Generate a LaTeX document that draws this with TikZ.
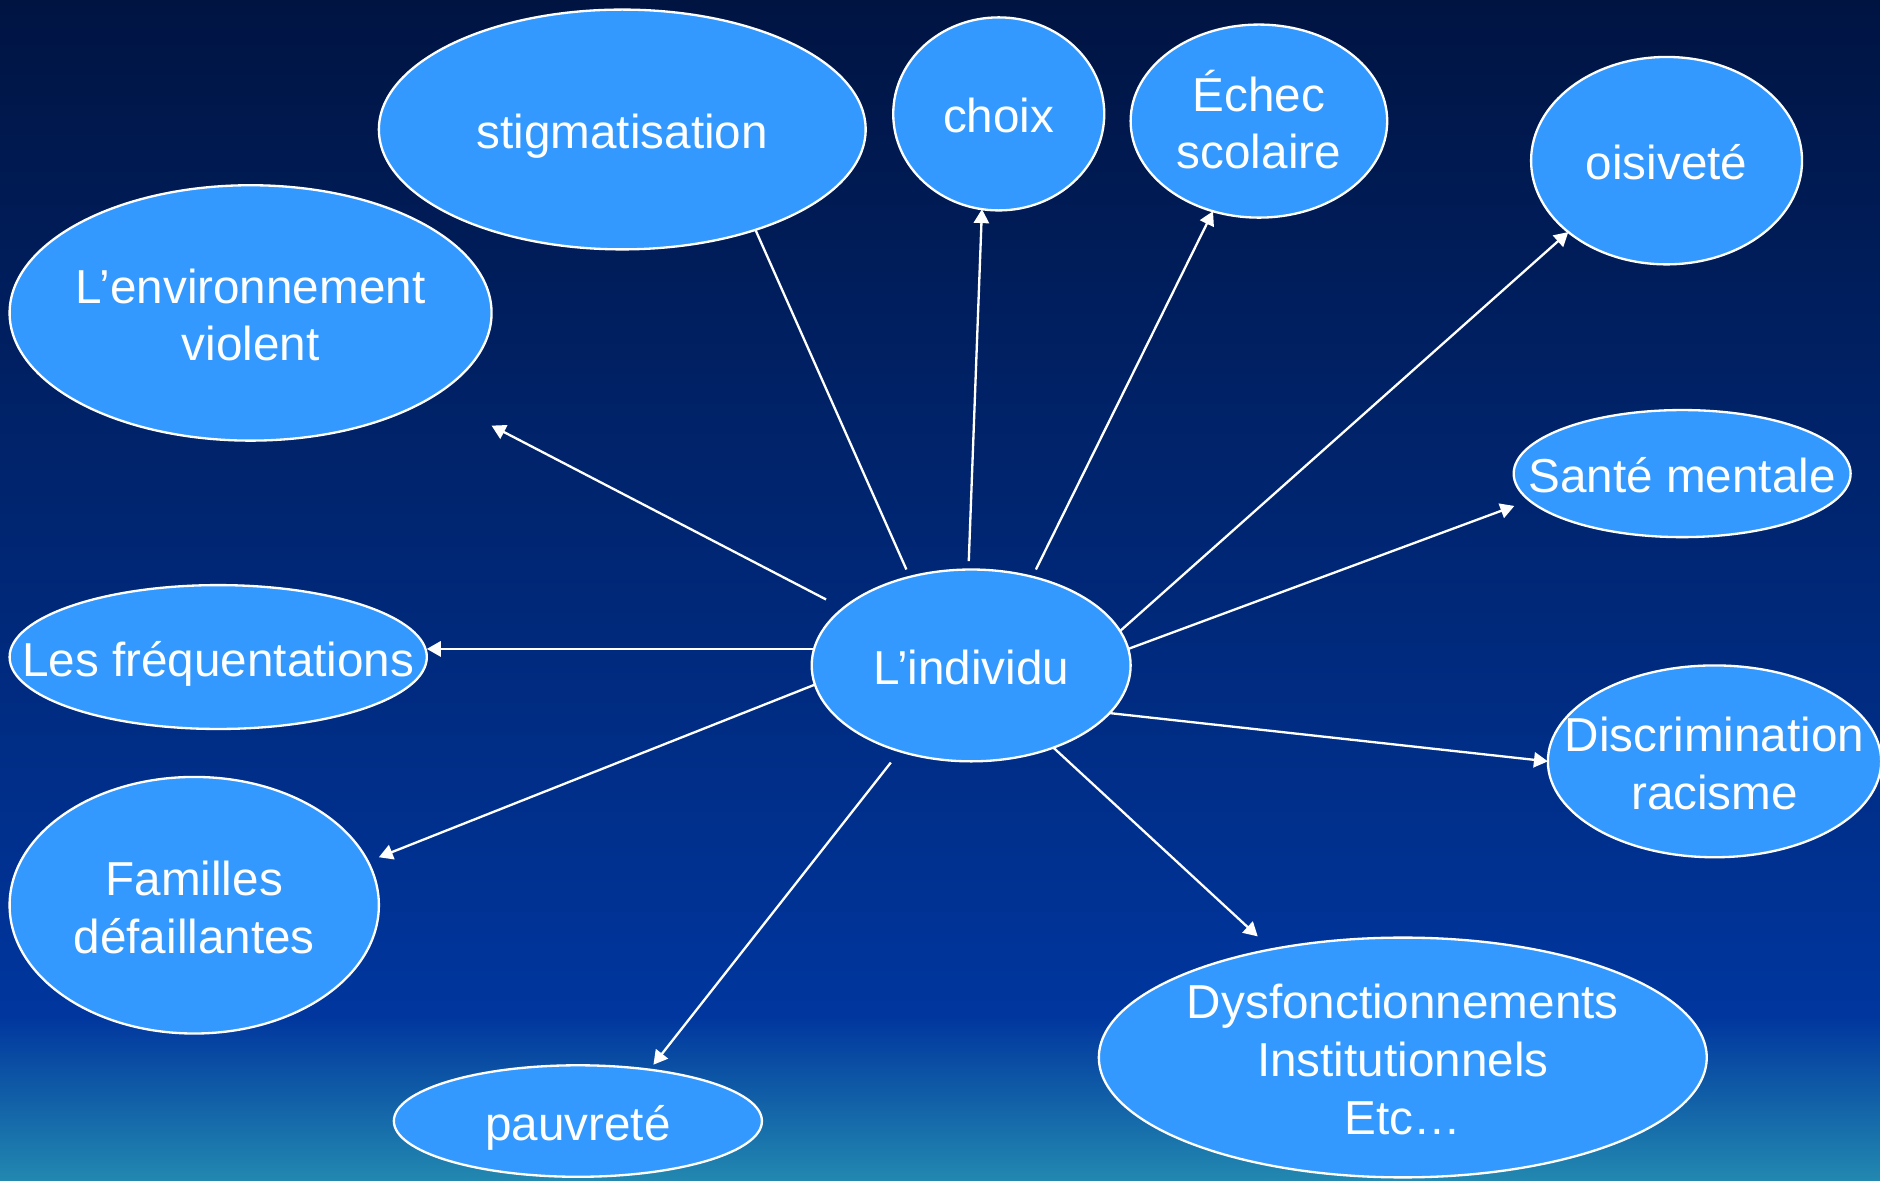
\documentclass[tikz,border=0pt]{standalone}
\usepackage{fontspec}
\setmainfont{Liberation Sans}
\usetikzlibrary{shapes.geometric,arrows.meta,calc}
\definecolor{bgtop}{HTML}{001442}
\definecolor{bgmid}{HTML}{00369E}
\definecolor{bgbot}{HTML}{2289B0}
\definecolor{bubfill}{HTML}{3399FF}
\pgfdeclareverticalshading{bgshade}{100bp}{color(0bp)=(bgbot); color(25bp)=(bgbot); color(32bp)=(bgmid); color(75bp)=(bgtop); color(100bp)=(bgtop)}
\newcommand{\hstr}{\rule{0pt}{12pt}}
\newcommand{\dstr}{\rule[-3pt]{0pt}{3pt}}
\tikzset{
  bub/.style 2 args={ellipse, draw=white, fill=bubfill, line width=0.55pt,
    inner sep=0pt, outer sep=0pt, minimum width=#1*0.01cm, minimum height=#2*0.01cm},
  txt/.style={text=white, font=\fontsize{11.3}{13.7}\selectfont, align=center, inner sep=0pt},
  arr/.style={draw=white, line width=0.55pt, -{Triangle[length=3.3pt,width=3.6pt]}},
  ln/.style={draw=white, line width=0.55pt},
}
\begin{document}
\begin{tikzpicture}[x=0.01cm,y=-0.01cm]
\useasboundingbox (0,0) rectangle (1568,985);
\shade[shading=bgshade] (0,0) rectangle (1568,985);

\node[bub={406}{200}, label={[txt]center:{\hstr stigmatisation\dstr}}] (stig) at (519,108) {};
\node[bub={176}{161}, label={[txt]center:{\hstr choix\dstr}}] (choix) at (833,95) {};
\node[bub={214}{161}, label={[txt]center:{\hstr Échec\\scolaire\dstr}}] (echec) at (1050,101) {};
\node[bub={226}{173}, label={[txt]center:{\hstr oisiveté\dstr}}] (ois) at (1390,134) {};
\node[bub={402}{213}, label={[txt]center:{\hstr L’environnement\\violent\dstr}}] (env) at (209,261) {};
\node[bub={281}{106}, label={[txt]center:{\hstr Santé mentale\dstr}}] (sante) at (1403,395) {};
\node[bub={348}{120}, label={[txt]center:{\hstr Les fréquentations\dstr}}] (freq) at (182,548) {};
\node[bub={266}{160}, label={[txt]center:{\hstr L’individu\dstr}}] (ind) at (810,555) {};
\node[bub={278}{160}, label={[txt]center:{\hstr Discrimination\\racisme\dstr}}] (disc) at (1430,635) {};
\node[bub={308}{214}, label={[txt]center:{\hstr Familles\\défaillantes\dstr}}] (fam) at (162,755) {};
\node[bub={307}{93}, label={[txt]center:{\hstr pauvreté\dstr}}] (pauv) at (482,935) {};
\node[bub={507}{200}, label={[txt]center:{\hstr Dysfonctionnements\\Institutionnels\\Etc…\dstr}}] (dys) at (1170,882) {};

% free ends of connectors
\coordinate (sEnv) at ($(ind)+(-121,-55)$);
\coordinate (eEnv) at ($(env)+(201,94)$);
\coordinate (sStig) at ($(ind)+(-54,-80)$);
\coordinate (sChoix) at ($(ind)+(-2,-87)$);
\coordinate (sEchec) at ($(ind)+(54,-80)$);
\coordinate (eSante) at ($(sante)+(-140,27)$);
\coordinate (eDys) at ($(dys)+(-121,-101)$);
\coordinate (sPauv) at ($(ind)+(-67,81)$);
\coordinate (ePauv) at ($(pauv)+(63,-47)$);
\coordinate (eFam) at ($(fam)+(154,-40)$);

\draw[arr] (sEnv) -- (eEnv);
\draw[ln] (sStig) -- (stig.-37.6);
\draw[arr] (sChoix) -- (choix.-100);
\draw[arr] (sEchec) -- (echec.-117);
\draw[arr] (ind.13) -- (ois.-144.5);
\draw[arr] (ind.6) -- (eSante);
\draw[arr] (ind.-19) -- (disc.west);
\draw[arr] (ind.-45) -- (eDys);
\draw[arr] (sPauv) -- (ePauv);
\draw[arr] (ind.-173) -- (eFam);
\draw[arr] (ind.174) -- (ind.174 -| freq.east);
\end{tikzpicture}
\end{document}
